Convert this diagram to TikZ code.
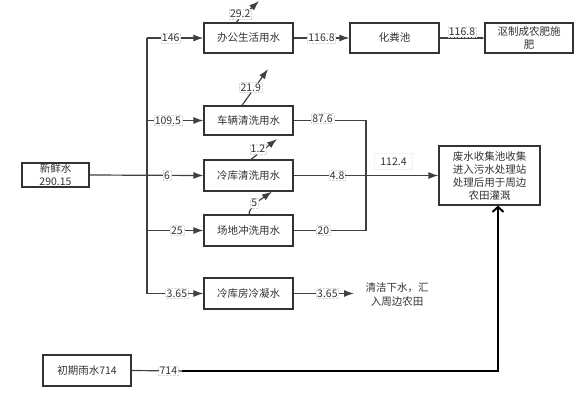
\documentclass[tikz,border=0pt]{standalone}
\usepackage{fontspec}
\setmainfont{Noto Sans CJK SC}
\usetikzlibrary{arrows.meta}
\definecolor{ln}{HTML}{404040}
\definecolor{tx}{HTML}{333333}
\begin{document}
\begin{tikzpicture}[x=1pt,y=-1pt,
  box/.style={draw=tx, line width=1.2pt, fill=white, text=tx, font=\fontsize{10.5}{13}\selectfont,
    inner sep=0pt, align=center, minimum width=89pt, minimum height=30pt},
  plain/.style={text=tx, font=\fontsize{10.5}{14}\selectfont, inner sep=0pt, align=center},
  lbl/.style={fill=white, draw=gray!30, densely dotted, line width=0.4pt, text=tx,
    font=\fontsize{10.5}{13}\selectfont, inner sep=1pt},
  conn/.style={draw=ln, line width=1.2pt},
  arr/.style={conn, -{Latex[length=10pt,width=7pt]}},
  smallarr/.style={conn, -{Latex[length=3pt,width=3pt]}},
  rainline/.style={draw=black, line width=2pt, -{Straight Barb[length=5pt,width=11pt]}}
]
\clip (0,0) rectangle (583,408);
\fill[white] (0,0) rectangle (583,408);

% boxes
\node[box, minimum width=67pt, minimum height=24pt] (fresh) at (55.5,175) {新鲜水\\290.15};
\node[box] (office) at (248.5,38) {办公生活用水};
\node[box] (septic) at (394.5,38) {化粪池};
\node[box, minimum width=88pt] (compost) at (529,38) {沤制成农肥施\\肥};
\node[box, minimum height=29pt] (car) at (248.5,120.5) {车辆清洗用水};
\node[box, minimum height=31pt] (cold) at (248.5,175.5) {冷库清洗用水};
\node[box, minimum height=31pt] (yard) at (248.5,230.5) {场地冲洗用水};
\node[box, minimum height=31pt] (cond) at (248.5,293.5) {冷库房冷凝水};
\node[box, minimum width=101pt, minimum height=59pt] (waste) at (489.5,175.5) {废水收集池收集\\进入污水处理站\\处理后用于周边\\农田灌溉};
\node[box, minimum width=88pt, minimum height=31pt] (rain) at (87,370.5) {初期雨水714};
\node[plain] (clean) at (397,295) {清洁下水，汇\\入周边农田};

% trunk
\coordinate (t1) at (147,38);
\coordinate (t2) at (147,120.5);
\coordinate (t4) at (147,230.5);
\coordinate (t5) at (147,293.5);
\draw[conn] (t1) -- (t5);
\draw[arr] (fresh.east) -- node[lbl,pos=0.68]{6} (cold.west);
\draw[arr] (t1) -- node[lbl,pos=0.42]{146} (office.west);
\draw[arr] (t2) -- node[lbl,pos=0.37]{109.5} (car.west);
\draw[arr] (t4) -- node[lbl,pos=0.53]{25} (yard.west);
\draw[arr] (t5) -- node[lbl,pos=0.53]{3.65} (cond.west);

% top row
\draw[arr] (office.east) -- node[lbl,pos=0.5]{116.8} (septic.west);
\draw[smallarr] (septic.east) -- node[lbl,pos=0.5,yshift=6pt]{116.8} (compost.west);

% losses
\coordinate (l1) at (259,1);
\draw[arr] ([xshift=-12.5pt]office.north) -- node[lbl,pos=0.4,xshift=-5pt]{29.2} (l1);
\coordinate (l2) at (268,69);
\draw[arr] ([xshift=-6.5pt]car.north) -- node[lbl,pos=0.49,xshift=-4pt]{21.9} (l2);
\coordinate (l3) at (277,139);
\draw[arr] ([xshift=2.5pt]cold.north) -- node[lbl,pos=0.5,xshift=-6pt]{1.2} (l3);
\draw[arr] ([xshift=0.5pt]yard.north) .. controls ([xshift=0.5pt,yshift=8pt]yard.north) and ([xshift=12pt,yshift=-8pt]cold.south) .. node[lbl,pos=0.5,xshift=-2pt]{5} ([xshift=23.5pt]cold.south);

% merge to waste
\coordinate (m1) at (366,120.5);
\coordinate (m2) at (366,230.5);
\draw[conn] (car.east) -- node[lbl,pos=0.4,yshift=2pt]{87.6} (m1) -- (m2);
\draw[conn] (yard.east) -- node[lbl,pos=0.41]{20} (m2);
\draw[arr] (cold.east) -- node[lbl,pos=0.3]{4.8} node[lbl,draw=gray!15,pos=0.69,yshift=14pt,inner xsep=6pt,inner ysep=4pt]{112.4} (waste.west);

% condensate
\coordinate (c1) at (354,293.5);
\draw[arr] (cond.east) -- node[lbl,pos=0.56]{3.65} (c1);

% rain
\coordinate (r1) at (190,371);
\draw[conn] (rain.east) -- node[lbl,pos=0.63]{714} (r1);
\coordinate (r0) at (182,371);
\coordinate (r2) at (498,371);
\draw[rainline] (r0) -- (r2) -- (r2 |- waste.south);
\end{tikzpicture}
\end{document}
